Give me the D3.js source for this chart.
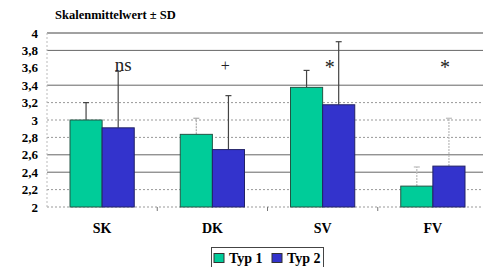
<!DOCTYPE html>
<html>
<head>
<meta charset="utf-8">
<script src="https://cdn.jsdelivr.net/npm/d3@7"></script>
<style>
  body { margin: 0; background: #fff; }
  svg text { font-family: "Liberation Serif", "DejaVu Serif", serif; }
</style>
</head>
<body>
<div id="chart"></div>
<script>
// Data
const categories = ['SK', 'DK', 'SV', 'FV'];
const seriesNames = ['Typ 1', 'Typ 2'];
const typ1 = [3.0, 2.835, 3.375, 2.24];
const typ2 = [2.91, 2.66, 3.175, 2.47];
const typ1Upper = [3.2, 3.02, 3.57, 2.46];   // mean + SD
const typ2Upper = [3.56, 3.28, 3.9, 3.02];
const significance = ['ns', '+', '*', '*'];
const yTicks = [2, 2.2, 2.4, 2.6, 2.8, 3, 3.2, 3.4, 3.6, 3.8, 4];
const solidGrid = [4, 3.8, 3.4, 2.6, 2.4];
const dottedGrid = [3.2, 3, 2.8, 2.2, 2];

const colors = ['#00cc99', '#3333cc'];
const errColors = [
    ['#444', '#444'],
    ['#aaa', '#444'],
    ['#444', '#444'],
    ['#bbb', '#bbb']
];

const W = 483, H = 267;
const margin = { top: 33, left: 47, right: -5, bottom: 60 };

const svg = d3.select('#chart').append('svg')
    .attr('width', W)
    .attr('height', H);

const x = d3.scaleBand()
    .domain(categories)
    .range([margin.left, W - margin.right])
    .paddingInner(0)
    .paddingOuter(0);

const xInner = d3.scaleBand()
    .domain(seriesNames)
    .range([23, x.bandwidth() - 23]);

const y = d3.scaleLinear()
    .domain([2, 4])
    .range([H - margin.bottom, margin.top]);

// Grid lines
svg.append('g').selectAll('line.dot')
    .data(dottedGrid)
    .enter().append('line')
    .attr('x1', margin.left).attr('x2', W)
    .attr('y1', d => y(d)).attr('y2', d => y(d))
    .attr('stroke', '#999')
    .attr('stroke-dasharray', '2,2');

svg.append('g').selectAll('line.solid')
    .data(solidGrid)
    .enter().append('line')
    .attr('x1', margin.left).attr('x2', W)
    .attr('y1', d => y(d)).attr('y2', d => y(d))
    .attr('stroke', d => d === 4 ? '#444' : '#666');

// Vertical dotted line at left
svg.append('line')
    .attr('x1', margin.left).attr('x2', margin.left)
    .attr('y1', y(4)).attr('y2', y(2))
    .attr('stroke', '#bbb')
    .attr('stroke-dasharray', '2,2');

// Category ticks
svg.append('g').selectAll('line')
    .data(categories.slice(1))
    .enter().append('line')
    .attr('x1', d => x(d)).attr('x2', d => x(d))
    .attr('y1', y(2)).attr('y2', y(2) + 4)
    .attr('stroke', '#777');

// Y tick labels
svg.append('g').selectAll('text')
    .data(yTicks)
    .enter().append('text')
    .attr('x', 38)
    .attr('y', d => y(d) + 4.5)
    .attr('text-anchor', 'end')
    .attr('font-size', 13)
    .attr('font-weight', 'bold')
    .text(d => d3.format('.1~f')(d).replace('.', ','));

// Title
svg.append('text')
    .attr('x', 55).attr('y', 19)
    .attr('font-size', 12.5)
    .attr('font-weight', 'bold')
    .text('Skalenmittelwert ± SD');

// Bars + error bars
const series = [typ1, typ2];
const uppers = [typ1Upper, typ2Upper];

series.forEach((vals, si) => {
    const g = svg.append('g');
    categories.forEach((c, ci) => {
        const bx = x(c) + xInner(seriesNames[si]);
        const bw = xInner.bandwidth();
        const cx = bx + bw / 2;
        // error bar
        const ec = errColors[ci][si];
        const dash = ec === '#bbb' || ec === '#aaa' ? '2,1' : null;
        g.append('line')
            .attr('x1', cx).attr('x2', cx)
            .attr('y1', y(vals[ci])).attr('y2', y(uppers[si][ci]))
            .attr('stroke', ec)
            .attr('stroke-width', 1.2)
            .attr('stroke-dasharray', dash);
        g.append('line')
            .attr('x1', cx - 3).attr('x2', cx + 3)
            .attr('y1', y(uppers[si][ci])).attr('y2', y(uppers[si][ci]))
            .attr('stroke', ec)
            .attr('stroke-width', 1.2);
        g.append('rect')
            .attr('x', bx)
            .attr('y', y(vals[ci]))
            .attr('width', bw)
            .attr('height', y(2) - y(vals[ci]))
            .attr('fill', colors[si])
            .attr('stroke', si === 0 ? '#225544' : '#222266')
            .attr('stroke-width', 1);
    });
});

// Significance labels
const sigPos = [
    { dx: 21, v: 3.62, size: 19 },
    { dx: 13, v: 3.67, size: 16 },
    { dx: 7, v: 3.63, size: 20 },
    { dx: 12, v: 3.63, size: 20 }
];
svg.append('g').selectAll('text')
    .data(significance)
    .enter().append('text')
    .attr('x', (d, i) => x(categories[i]) + x.bandwidth() / 2 + sigPos[i].dx)
    .attr('y', (d, i) => y(sigPos[i].v) + (d === 'ns' ? 5 : 9))
    .attr('text-anchor', 'middle')
    .attr('font-size', (d, i) => sigPos[i].size)
    .attr('fill', '#222')
    .text(d => d);

// X labels
svg.append('g').selectAll('text')
    .data(categories)
    .enter().append('text')
    .attr('x', d => x(d) + x.bandwidth() / 2)
    .attr('y', 233)
    .attr('text-anchor', 'middle')
    .attr('font-size', 14)
    .attr('font-weight', 'bold')
    .text(d => d);

// Legend
const leg = svg.append('g');
leg.append('rect')
    .attr('x', 211.5).attr('y', 247.5)
    .attr('width', 112).attr('height', 30)
    .attr('fill', '#fff')
    .attr('stroke', '#444');
const legX = [214, 272];
seriesNames.forEach((s, i) => {
    leg.append('rect')
        .attr('x', legX[i]).attr('y', 253.5)
        .attr('width', 10).attr('height', 9)
        .attr('fill', colors[i])
        .attr('stroke', '#333');
    leg.append('text')
        .attr('x', legX[i] + 15).attr('y', 263)
        .attr('font-size', 14)
        .attr('font-weight', 'bold')
        .text(s);
});
</script>
</body>
</html>
